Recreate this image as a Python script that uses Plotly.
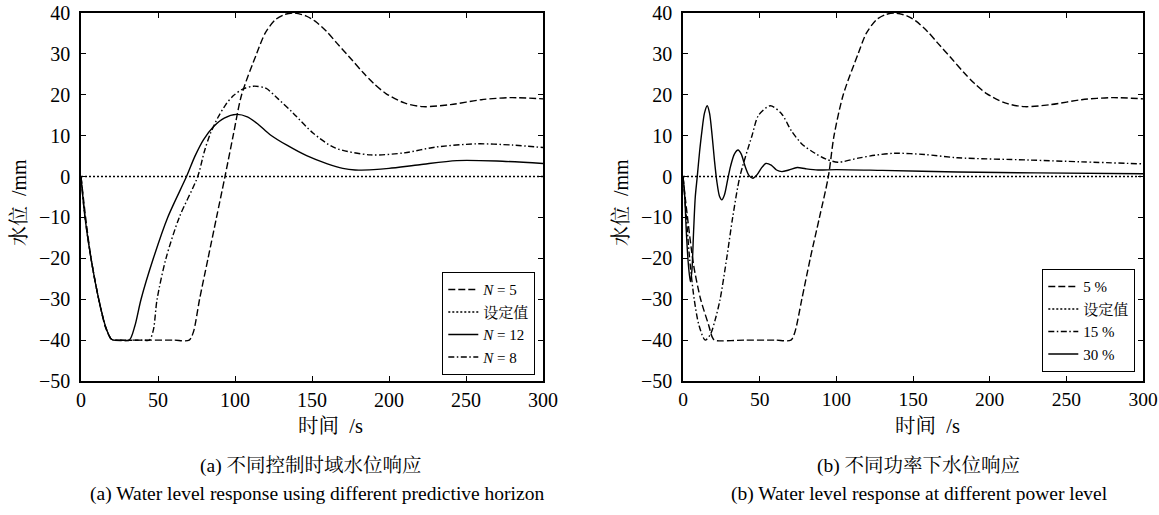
import plotly.graph_objects as go

# ---------------- data ----------------
# (a) different predictive horizon
a_n5_t = [0, 3, 6.5, 11.5, 16, 19.5, 21, 40, 60, 70.3, 73, 77, 82.5, 88, 93.5, 98.8, 104.3, 114, 119.5, 126, 132, 138,
          146, 152, 159.4, 166, 176, 183, 190, 198, 210, 222, 240, 260, 279, 300]
a_n5_y = [0, -10, -20, -30, -37, -39.7, -40, -40, -40, -40, -38, -30, -20, -10, 0, 10, 20, 30, 35, 38.3, 39.6, 40,
          39.3, 38, 35.5, 32.7, 28.5, 25.5, 22.8, 20.3, 18, 17.1, 17.6, 18.8, 19.3, 19.0]

a_set_t = [0, 300]
a_set_y = [0, 0]

a_n12_t = [0, 2.6, 6.5, 11.5, 16.2, 19.5, 21, 26, 31.4, 35, 39, 47, 56.3, 68.5, 74, 79.5, 86, 93, 101, 108, 115,
           122.6, 134, 146.5, 160, 170, 178, 190, 200, 220, 244, 270, 300]
a_n12_y = [0, -10, -20, -30, -37, -39.7, -40, -40, -40, -36.5, -30, -20, -10, 0, 5, 9, 12.2, 14.3, 15.2, 14.6, 12.8,
           10.3, 7.6, 5.1, 3.1, 2.0, 1.6, 1.7, 2.0, 2.9, 3.9, 3.8, 3.2]

a_n8_t = [0, 2.6, 6.5, 11.5, 16.2, 19.5, 21, 30, 40, 44.4, 47, 49.4, 55.2, 63.8, 75.8, 80, 84, 89, 94, 99, 105, 112,
          120, 128, 137.8, 150.8, 165, 188, 210, 230, 257, 280, 300]
a_n8_y = [0, -10, -20, -30, -37, -39.7, -40, -40, -40, -40, -37.5, -30, -20, -10, 0, 6, 10.5, 14.5, 17.6, 19.8, 21.4,
          22.1, 21.6, 19, 15.5, 10.6, 7, 5.3, 5.8, 7.2, 8, 7.7, 7.1]

# (b) different power level
b_p5_t = [0, 1.5, 6.9, 11.5, 16.7, 19, 20.5, 40, 60, 70.4, 73, 77.5, 83, 89, 94.8, 98.5, 104.5, 114.2, 119.5, 126,
          132, 138, 146, 152, 159.4, 166, 176, 183, 190, 198, 210, 222.7, 240, 260, 280, 300]
b_p5_y = [0, -5.3, -21.6, -30, -36.3, -39.2, -40, -40, -40, -40, -38, -30, -20, -10, 0, 10, 20, 30, 35, 38.3,
          39.6, 40, 39.3, 38, 35.5, 32.7, 28.5, 25.5, 22.8, 20.3, 18, 17.1, 17.6, 18.8, 19.3, 19.0]

b_set_t = [0, 300]
b_set_y = [0, 0]

b_p15_t = [0, 2.2, 4.3, 7.3, 10.5, 14.5, 18, 21, 24.2, 28.5, 32.4, 37.1, 45, 49.3, 56.9, 64, 71, 78, 86.1, 93,
           101, 114.2, 125, 138, 157.5, 179, 225, 260, 300]
b_p15_y = [0, -10, -20, -30, -36.5, -40, -38.5, -35, -30, -20, -10, 0, 10, 15, 17.3, 15.5, 11, 7.8, 5.7, 4.3,
           3.5, 4.5, 5.2, 5.7, 5.4, 4.6, 4.05, 3.6, 3.1]

b_p30_t = [0, 1, 2.1, 3.4, 4.8, 5.8, 6.9, 8, 9.3, 10.8, 12.3, 14, 15.8, 17.3, 19, 20.5, 22, 23.8, 25.3, 27, 29, 31,
           33.5, 35.9, 38, 40.5, 43, 45.6, 48, 51, 54, 57.5, 61, 64.5, 69, 74.5, 80, 88, 100, 130, 179, 230, 300]
b_p30_y = [0, -4, -13, -21, -25.7, -23, -13.5, -5, 0, 6, 11, 15.5, 17.3, 15.5, 10, 4, -1, -4.8, -5.7, -4.5, -1, 2.5,
           5.5, 6.5, 5.5, 2.5, 0.3, -0.4, 0.3, 2, 3.2, 2.8, 1.6, 1.2, 1.6, 2.2, 1.9, 1.6, 1.7, 1.5, 1.1, 0.9, 0.7]

x_ticks = [0, 50, 100, 150, 200, 250, 300]
y_ticks = [-50, -40, -30, -20, -10, 0, 10, 20, 30, 40]

legend_a = ["<i>N</i> = 5", "设定值", "<i>N</i> = 12", "<i>N</i> = 8"]
legend_b = ["5 %", "设定值", "15 %", "30 %"]

ylabel = "水位  /mm"
xlabel = "时间  /s"
cap_a_cn = "(a) 不同控制时域水位响应"
cap_a_en = "(a) Water level response using different predictive horizon"
cap_b_cn = "(b) 不同功率下水位响应"
cap_b_en = "(b) Water level response at different power level"

# ---------------- styling ----------------
FONT = "'Liberation Serif', 'Noto Serif CJK SC', 'Noto Sans CJK SC', serif"
W, H = 1159, 515
DASH = "7px,3px"
DOT = "2px,2px"
DASHDOT = "6px,2.5px,1.5px,2.5px"
LW = 1.4

fig = go.Figure()

def add(t, y, name, dash, xa, ya, leg, width=LW):
    fig.add_trace(go.Scatter(
        x=t, y=y, name=name, mode="lines", xaxis=xa, yaxis=ya, legend=leg,
        line=dict(color="black", width=width, dash=dash, shape="spline", smoothing=0.8),
    ))

add(a_n5_t, a_n5_y, legend_a[0], DASH, "x", "y", "legend")
add(a_set_t, a_set_y, legend_a[1], DOT, "x", "y", "legend", 1.6)
add(a_n12_t, a_n12_y, legend_a[2], "solid", "x", "y", "legend")
add(a_n8_t, a_n8_y, legend_a[3], DASHDOT, "x", "y", "legend")

add(b_p5_t, b_p5_y, legend_b[0], DASH, "x2", "y2", "legend2")
add(b_set_t, b_set_y, legend_b[1], DOT, "x2", "y2", "legend2", 1.6)
add(b_p15_t, b_p15_y, legend_b[2], DASHDOT, "x2", "y2", "legend2")
add(b_p30_t, b_p30_y, legend_b[3], "solid", "x2", "y2", "legend2")

ydom = [(H - 381) / H, (H - 13) / H]

def xaxis_cfg(size):
    return dict(range=[0, 300], tickvals=x_ticks, ticks="inside", ticklen=5, tickwidth=1.2, tickcolor="black",
                showline=True, linecolor="black", linewidth=1.5, mirror="ticks", showgrid=False, zeroline=False,
                tickfont=dict(family=FONT, size=size, color="black"), ticklabelstandoff=0, automargin=False,
                ticklabeloverflow="allow")

common_y = dict(range=[-50, 40], tickvals=y_ticks, ticks="inside", ticklen=5, tickwidth=1.2, tickcolor="black",
                showline=True, linecolor="black", linewidth=1.5, mirror="ticks", showgrid=False, zeroline=False,
                tickfont=dict(family=FONT, size=20, color="black"), ticklabelstandoff=5, automargin=False,
                ticklabeloverflow="allow")

leg_common = dict(bgcolor="white", bordercolor="black", borderwidth=1.3,
                  font=dict(family=FONT, size=15, color="black"), itemwidth=30,
                  xanchor="right", yanchor="bottom", tracegroupgap=0)

fig.update_layout(
    width=W, height=H, margin=dict(l=0, r=0, t=0, b=0, autoexpand=False),
    paper_bgcolor="white", plot_bgcolor="white",
    font=dict(family=FONT, color="black"),
    xaxis=dict(domain=[81 / W, 543 / W], anchor="y", **xaxis_cfg(20)),
    yaxis=dict(domain=ydom, anchor="x", **common_y),
    xaxis2=dict(domain=[683 / W, 1143 / W], anchor="y2", **xaxis_cfg(19.5)),
    yaxis2=dict(domain=ydom, anchor="x2", **common_y),
    legend=dict(x=535 / W, y=(H - 375) / H, **leg_common),
    legend2=dict(x=1135 / W, y=(H - 372) / H, **leg_common),
    showlegend=True,
)

def ann(text, x, y, size=19, angle=0):
    fig.add_annotation(text=text, x=x / W, y=(H - y) / H, xref="paper", yref="paper", showarrow=False,
                       textangle=angle, xanchor="center", yanchor="middle",
                       font=dict(family=FONT, size=size, color="black"))

ann(ylabel, 19, 203, 20, -90)
ann(ylabel, 621, 203, 20, -90)
ann(xlabel, 331, 426, 20.5)
ann(xlabel, 927, 426, 20.5)
ann(cap_a_cn, 311, 466, 19.5)
ann(cap_a_en, 317, 494, 19.5)
ann(cap_b_cn, 918, 466, 19.5)
ann(cap_b_en, 919, 494, 19.5)

fig.write_html("out.html", config={"displayModeBar": False},
               post_script="document.body.style.margin='0px';document.body.style.overflow='hidden';")
